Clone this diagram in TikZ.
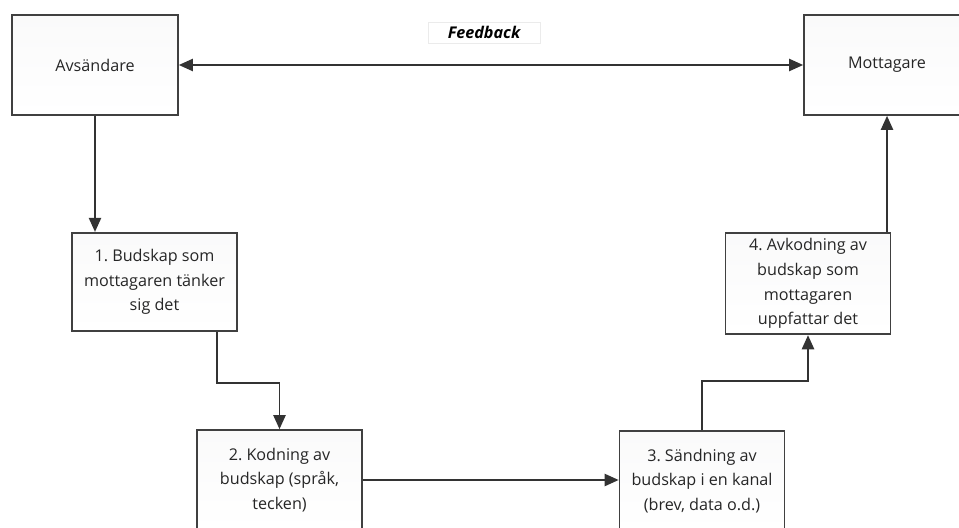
\documentclass[tikz,border=0pt]{standalone}
\usepackage{fontspec}
\setmainfont{Open Sans}
\usepackage{tikz}
\usetikzlibrary{arrows.meta,positioning,calc}
\frenchspacing

\begin{document}
\begin{tikzpicture}[
      stage/.style={draw=black!75,line width=1pt,top color=blue!5!black!2!white,
                    bottom color=white,minimum width=3.3cm,minimum height=1.97cm,
                    align=center,font=\fontsize{9.2}{14}\selectfont,
                    text=black!85},
      party/.style={stage,minimum width=3.32cm,minimum height=2cm},
      arr/.style={-{Triangle[width=7pt,length=8pt]},line width=0.9pt,black!80},
      fbtag/.style={draw=black!8,fill=white,minimum width=2.24cm,minimum height=0.42cm,
                    inner sep=1pt,font=\fontsize{9.2}{11}\selectfont\bfseries\itshape},
  ]
  \clip (0,0) rectangle (19.18,-10.54);

  %--- sender and receiver ---
  \node[party] (avs) at (1.9,-1.3) {Avsändare};
  \node[party] (mott) at (17.74,-1.3) {Mottagare};

  % feedback
  \node[fbtag] (fb) at (9.68,-0.65) {Feedback};
  \draw[arr,{Triangle[width=7pt,length=8pt]}-{Triangle[width=7pt,length=8pt]}]
    (avs.east) -- (mott.west);

  %--- the four steps ---
  \node[stage] (b1) at (3.09,-5.64) {1. Budskap som\\mottagaren tänker\\sig det};
  \node[stage,minimum height=2cm] (b2) at (5.59,-9.6) {2. Kodning av\\budskap (språk,\\tecken)};
  \node[stage,minimum height=2cm] (b3) at (14.04,-9.62) {3. Sändning av\\budskap i en kanal\\(brev, data o.d.)};
  \node[stage] (b4) at (16.16,-5.67) {4. Avkodning av\\budskap som\\mottagaren\\uppfattar det};

  % connections
  \draw[arr] (avs.south) -- (avs.south |- b1.north);
  \draw[arr] ([xshift=1.25cm]b1.south) -- ++(0,-1.02) -| (b2.north);
  \draw[arr] (b2.east) -- (b2.east -| b3.west);
  \draw[arr] (b3.north) -- ++(0,0.98) -| (b4.south);
  \draw[arr] (b4.north -| mott.south) -- (mott.south);
\end{tikzpicture}
\end{document}
